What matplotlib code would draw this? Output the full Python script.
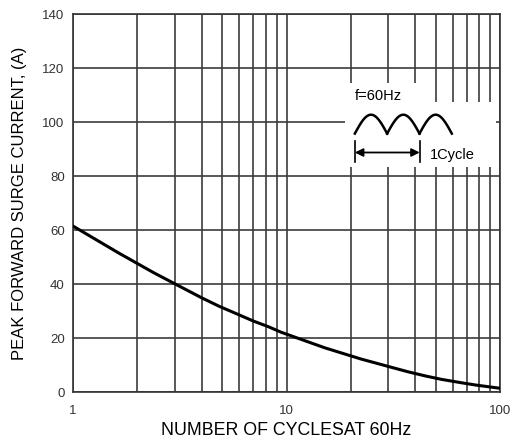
import numpy as np
import matplotlib.pyplot as plt
from matplotlib.patches import Rectangle

plt.rcParams['font.family'] = ['Liberation Sans', 'DejaVu Sans']

# surge current curve
cycles = [1, 1.63, 2.39, 3.19, 4.01, 4.83, 5.68, 7.0, 8.23, 9.41,
          15.1, 22.2, 29.6, 37.1, 45.1, 53.2, 65.3, 76.9, 100]
current = [61.5, 51.6, 44.2, 39.0, 34.9, 31.8, 29.4, 26.3, 24.2, 22.2,
           16.4, 12.3, 9.6, 7.5, 5.9, 4.7, 3.5, 2.6, 1.4]

y_ticks = [0, 20, 40, 60, 80, 100, 120, 140]
x_ticks = [1, 10, 100]
x_ticklabels = ['1', '10', '100']

fig = plt.figure(figsize=(5.12, 4.44), dpi=100)
ax = fig.add_axes([0.1426, 0.117, 0.834, 0.851])

ax.plot(cycles, current, color='black', lw=2.2, zorder=5)

ax.set_xscale('log')
ax.set_xlim(1, 100)
ax.set_ylim(0, 140)
ax.set_yticks(y_ticks)
ax.set_xticks(x_ticks)
ax.set_xticklabels(x_ticklabels)
ax.grid(True, which='both', axis='x', color='#3c3c3c', lw=1.2)
ax.grid(True, which='major', axis='y', color='#3c3c3c', lw=1.2)
ax.tick_params(which='both', length=0, labelsize=9.5, labelcolor='#333333')
ax.tick_params(axis='x', pad=9)
ax.tick_params(axis='y', pad=6)
for s in ax.spines.values():
    s.set_color('#333333')
    s.set_linewidth(1.2)

ax.set_xlabel('NUMBER OF CYCLESAT 60Hz', fontsize=12.8, labelpad=4)
ax.set_ylabel('PEAK FORWARD SURGE CURRENT, (A)', fontsize=12, labelpad=11)

# inset: white box with the waveform sketch
T = ax.transAxes
ax.add_patch(Rectangle((0.637, 0.595), 0.354, 0.172, transform=T,
                       facecolor='white', edgecolor='none', zorder=3))
ax.add_patch(Rectangle((0.637, 0.595), 0.18, 0.222, transform=T,
                       facecolor='white', edgecolor='none', zorder=3))
ax.text(0.659, 0.784, 'f=60Hz', transform=T, fontsize=10.5, va='center', zorder=6)

x0, w, base, amp = 0.660, 0.0757, 0.684, 0.05
for k in range(3):
    t = np.linspace(0, np.pi, 40)
    ax.plot(x0 + k * w + t / np.pi * w, base + amp * np.sin(t), transform=T,
            color='black', lw=1.8, zorder=6)

xa, xb, ya = 0.660, 0.812, 0.634
ax.annotate('', xy=(xa, ya), xytext=(xb, ya), xycoords=T, textcoords=T,
            arrowprops=dict(arrowstyle='<|-|>', color='black', lw=1.3,
                            shrinkA=0, shrinkB=0, mutation_scale=12), zorder=6)
for xv in (xa, xb):
    ax.plot([xv, xv], [0.608, 0.665], transform=T, color='black', lw=1.2, zorder=6)
ax.text(0.836, 0.628, '1Cycle', transform=T, fontsize=10.5, va='center', zorder=6)

fig.savefig('out.png', dpi=100)
